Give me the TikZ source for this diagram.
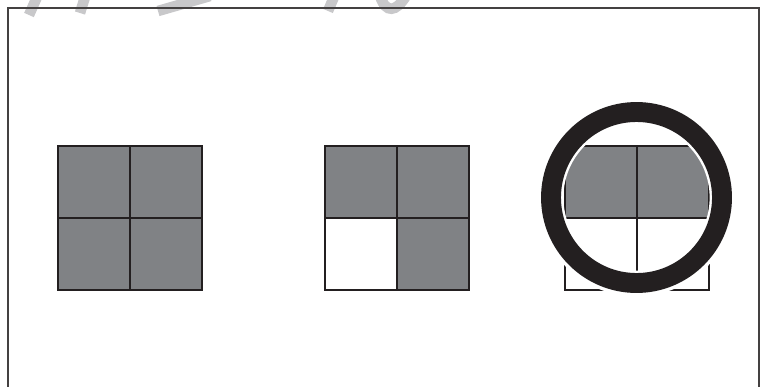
\documentclass[tikz,border=0pt]{standalone}
\usetikzlibrary{positioning}
\definecolor{cGrey}{RGB}{128,130,133}
\definecolor{cInk}{RGB}{35,31,32}
\definecolor{cMark}{RGB}{200,200,202}
\tikzset{
	cell/.style={draw=cInk, line width=1.4pt, minimum size=2.16cm, inner sep=0pt, outer sep=0pt},
	greycell/.style={cell, fill=cGrey},
	whitecell/.style={cell, fill=white},
	frameline/.style={draw=cInk!85, line width=1.1pt},
	wmark/.style={draw=cMark, line width=9pt},
	% ring over the third panel
	halo/.style={draw=white, line width=22pt},
	ring/.style={draw=cInk, line width=17pt},
}
\begin{document}
\begin{tikzpicture}[x=0.03cm, y=-0.03cm]
	\useasboundingbox (0,0) rectangle (768,386);
	% watermark pieces at the top edge
	\draw[wmark] (37,-3) -- (29,15);
	\draw[wmark] (85,-3) -- (80,13);
	\draw[wmark] (158,11) -- (210,-4);
	\draw[wmark] (334,-3) -- (328,11);
	\draw[wmark] (380,-4) .. controls (386,14) and (396,12) .. (406,-4);
	% frame
	\draw[frameline] (8,390) -- (8,8) -- (759,8) -- (759,390);
	% three panels of four cells
	\foreach \px/\nm/\bl/\br in {58/a/whitecell/greycell, 325/b/whitecell/greycell, 565/c/whitecell/whitecell} {
		\node[greycell] (\nm1) at (\px+36,182) {};
		\node[greycell, right=0pt of \nm1] (\nm2) {};
		\node[\bl, below=0pt of \nm1] (\nm3) {};
		\node[\br, right=0pt of \nm3] (\nm4) {};
	}
	% first panel is all grey
	\node[greycell] at (a3) {};
	% ring
	\coordinate (ringc) at (636.5,197.5);
	\draw[halo] (ringc) circle[radius=86];
	\draw[ring] (ringc) circle[radius=85.5];
\end{tikzpicture}
\end{document}
